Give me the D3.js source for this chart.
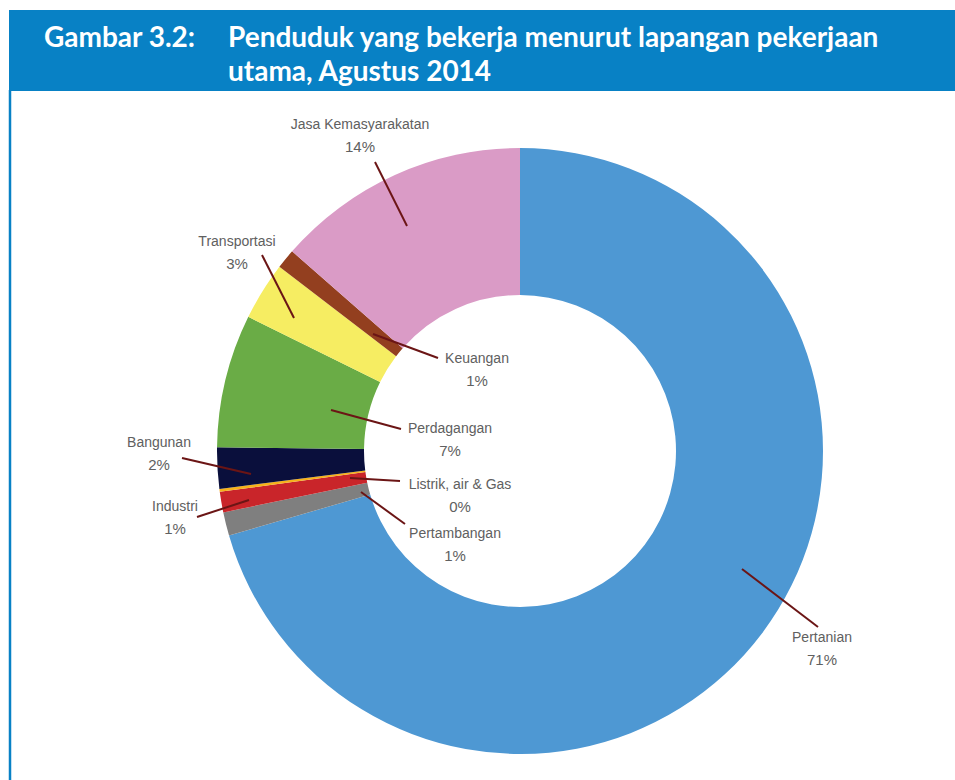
<!DOCTYPE html>
<html>
<head>
<meta charset="utf-8">
<script src="https://cdn.jsdelivr.net/npm/d3@7"></script>
<style>
  body { margin: 0; background: #fff; }
  svg { display: block; }
</style>
</head>
<body>
<svg id="chart" width="955" height="780"></svg>
<script>
// sektor lapangan pekerjaan, searah jarum jam dari atas
var sectors = ["Pertanian", "Pertambangan", "Industri", "Listrik, air & Gas", "Bangunan",
               "Perdagangan", "Transportasi", "Keuangan", "Jasa Kemasyarakatan"];
var shares = [70.5, 1.25, 1.1, 0.15, 2.2, 7.1, 3.1, 1.05, 13.55];
var colors = ["#4e98d3", "#7f7f7f", "#c9252a", "#f6b21b", "#0a0f3c",
              "#6aac46", "#f6ed62", "#933f1f", "#da9bc6"];

// where each label sits (centre of the name line) and where the leader line starts
var labelPos = [[822, 637], [455, 533], [175, 506], [460, 484], [159, 442],
                [450, 428], [237, 241], [477, 358], [360, 124]];
var leaderFrom = [[742, 569], [361, 492], [249, 500], [350, 478], [251, 474],
                  [331, 410], [294, 318], [373, 334], [407, 226]];
var leaderTo = [[818, 627], [405, 524], [197, 517], [400, 481], [182, 458],
                [401, 429], [262, 255], [438, 358], [375, 162]];

var svg = d3.select("#chart");

// header bar
svg.append("rect")
    .attr("x", 9).attr("y", 10)
    .attr("width", 946).attr("height", 81)
    .attr("fill", "#0881c5");
svg.append("line")
    .attr("x1", 10).attr("x2", 10)
    .attr("y1", 90).attr("y2", 780)
    .attr("stroke", "#0881c5")
    .attr("stroke-width", 2.5);

var title = svg.append("g")
    .attr("font-family", "Lato, 'Open Sans', sans-serif")
    .attr("font-weight", 700)
    .attr("font-size", 28)
    .attr("fill", "#fff");
title.append("text").attr("x", 44).attr("y", 47).text("Gambar 3.2:");
title.append("text").attr("x", 228).attr("y", 47).text("Penduduk yang bekerja menurut lapangan pekerjaan");
title.append("text").attr("x", 228).attr("y", 81).text("utama, Agustus 2014");

var cx = 520, cy = 451, outerR = 303, innerR = 156;

var pie = d3.pie().sort(null).value(function(d) { return d; });
var arc = d3.arc().innerRadius(innerR).outerRadius(outerR);
var slices = pie(shares);

var g = svg.append("g").attr("transform", "translate(" + cx + "," + cy + ")");
g.selectAll("path.slice")
    .data(slices)
    .enter().append("path")
    .attr("class", "slice")
    .attr("d", arc)
    .attr("fill", function(d, i) { return colors[i]; });

// leader lines
svg.append("g").selectAll("line")
    .data(sectors)
    .enter().append("line")
    .attr("x1", function(d, i) { return leaderFrom[i][0]; })
    .attr("y1", function(d, i) { return leaderFrom[i][1]; })
    .attr("x2", function(d, i) { return leaderTo[i][0]; })
    .attr("y2", function(d, i) { return leaderTo[i][1]; })
    .attr("stroke", "#6b1515")
    .attr("stroke-width", 2);

// labels
var lab = svg.append("g")
    .attr("font-family", "'Liberation Sans', Arial, sans-serif")
    .attr("fill", "#606060")
    .attr("text-anchor", "middle");
var lg = lab.selectAll("g")
    .data(sectors)
    .enter().append("g")
    .attr("transform", function(d, i) { return "translate(" + labelPos[i][0] + "," + labelPos[i][1] + ")"; });
lg.append("text")
    .attr("font-size", 14)
    .attr("dy", "0.35em")
    .text(function(d) { return d; });
lg.append("text")
    .attr("font-size", 15)
    .attr("y", 23)
    .attr("dy", "0.35em")
    .text(function(d, i) { return Math.round(shares[i]) + "%"; });
</script>
</body>
</html>
